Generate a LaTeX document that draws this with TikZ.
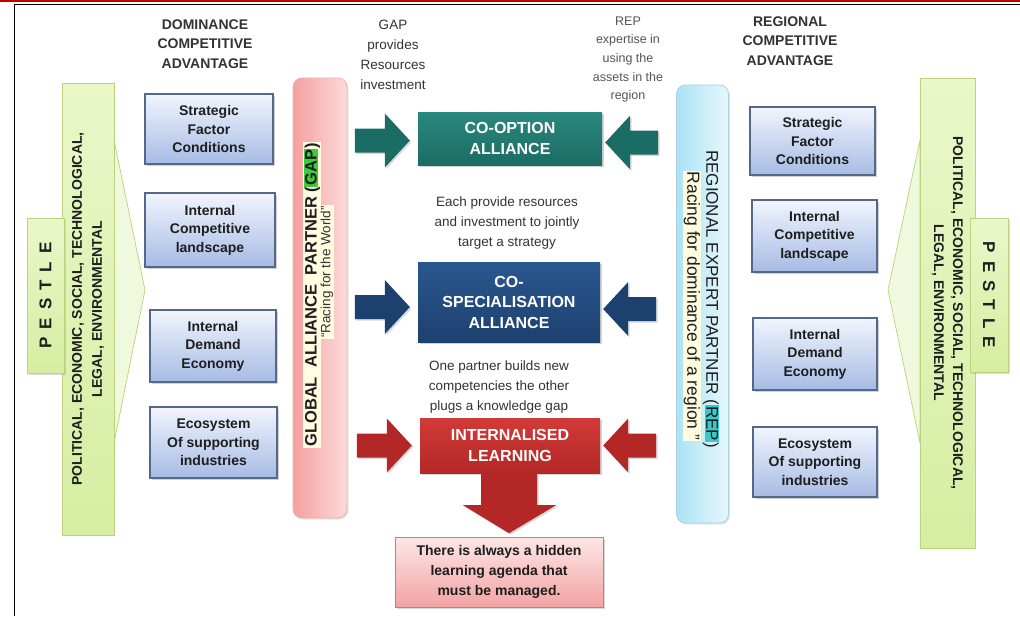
\documentclass[tikz,border=0pt]{standalone}
\usepackage{fontspec}
\setmainfont{Liberation Sans}
\usetikzlibrary{calc,shadows}

\definecolor{factortop}{HTML}{F1F5FD}
\definecolor{factorbot}{HTML}{A6BBE4}
\definecolor{factoredge}{HTML}{56688A}
\definecolor{teala}{HTML}{2A887E}
\definecolor{tealb}{HTML}{1B6C64}
\definecolor{bluea}{HTML}{2A5790}
\definecolor{blueb}{HTML}{1D416F}
\definecolor{reda}{HTML}{D23A37}
\definecolor{redb}{HTML}{B32826}
\definecolor{notetop}{HTML}{FDE6E6}
\definecolor{notebot}{HTML}{F3A3A3}
\definecolor{noteedge}{HTML}{D07878}
\definecolor{gapl}{HTML}{F5A0A0}
\definecolor{gapr}{HTML}{FCDADA}
\definecolor{gapedge}{HTML}{E6B3B3}
\definecolor{repl}{HTML}{ABE3F5}
\definecolor{repr}{HTML}{E7F7FC}
\definecolor{repedge}{HTML}{A9D3E2}
\definecolor{gapmark}{HTML}{3CCB3C}
\definecolor{repmark}{HTML}{3CC8C8}
\definecolor{hilite}{HTML}{FFFCE0}
\definecolor{pestlea}{HTML}{EAF7C8}
\definecolor{pestleb}{HTML}{D6EEA2}
\definecolor{pestleedge}{HTML}{B9D47A}
\definecolor{wedgefill}{HTML}{F0F9DD}
\definecolor{inkdark}{HTML}{1E1E1E}
\definecolor{inkgrey}{HTML}{333333}
\definecolor{inklight}{HTML}{555555}

\newcommand{\fsz}[2]{\fontsize{#1}{#2}\selectfont}
% block arrow pushing right into a node: #1 node, #2 vertical offset, #3 colour
\newcommand{\pushright}[3]{%
  \fill[#3, drop shadow={shadow xshift=1.5pt,shadow yshift=-1.5pt,opacity=.3}]
    ($(#1.west)+(-8,#2)$) -- ++(-25,-27) -- ++(0,15) -- ++(-30,0) -- ++(0,24)
    -- ++(30,0) -- ++(0,15) -- cycle;}
% block arrow pushing left into a node
\newcommand{\pushleft}[3]{%
  \fill[#3, drop shadow={shadow xshift=1.5pt,shadow yshift=-1.5pt,opacity=.3}]
    ($(#1.east)+(3,#2)$) -- ++(25,-27) -- ++(0,15) -- ++(28,0) -- ++(0,24)
    -- ++(-28,0) -- ++(0,15) -- cycle;}

\begin{document}
\begin{tikzpicture}[x=1pt,y=-1pt,
  factor/.style={draw=factoredge, line width=1.3pt, top color=factortop,
    bottom color=factorbot, align=center, text=inkdark,
    font=\fsz{14}{18.5}\bfseries,
    drop shadow={shadow xshift=2pt,shadow yshift=-2pt,opacity=.35}},
  alliance/.style={align=center, text=white, font=\fsz{16}{20.5}\bfseries,
    drop shadow={shadow xshift=2pt,shadow yshift=-2pt,opacity=.35}},
  header/.style={align=center, text=inkgrey, font=\fsz{14}{19.5}\bfseries},
  remark/.style={align=center, text=inkgrey, font=\fsz{13.5}{20}},
  pill/.style={rounded corners=9pt, line width=0.8pt},
  pestlebar/.style={draw=pestleedge, line width=0.8pt, top color=pestlea,
    bottom color=pestleb, align=center, text=inkdark},
]
\useasboundingbox (0,0) rectangle (1020,616);
\fill[white] (0,0) rectangle (1020,616);

% page frame
\draw[red!75!black, line width=2.4pt] (0,1.2) -- (1020,1.2);
\draw[black, line width=1.6pt] (14,4.6) -- (1020,4.6);
\draw[black, line width=1.6pt] (14.5,4) -- (14.5,616);

% ---------- left PESTLE ----------
\filldraw[fill=wedgefill, draw=pestleedge, line width=0.7pt]
  (114,140) -- (145,290) -- (114,443) -- cycle;
\node[pestlebar, rotate=90, minimum width=452, minimum height=52,
  font=\fsz{14}{20}\bfseries] (lbar) at (88,309)
  {POLITICAL, ECONOMIC, SOCIAL, TECHNOLOGICAL,\\LEGAL, ENVIRONMENTAL};
\node[pestlebar, rotate=90, minimum width=155, minimum height=37,
  font=\fsz{17}{20}\bfseries,
  drop shadow={shadow xshift=1.5pt,shadow yshift=-1.5pt,opacity=.25}] (lpest) at (45.5,295.5)
  {P\hskip8pt E\hskip8pt S\hskip8pt T\hskip8pt L\hskip8pt E};

% ---------- right PESTLE ----------
\filldraw[fill=wedgefill, draw=pestleedge, line width=0.7pt]
  (920,140) -- (888,290) -- (920,443) -- cycle;
\node[pestlebar, rotate=-90, minimum width=470, minimum height=55,
  font=\fsz{14}{19}\bfseries] (rbar) at (947.5,313)
  {POLITICAL, ECONOMIC, SOCIAL, TECHNOLOGICAL,\\LEGAL, ENVIRONMENTAL};
\node[pestlebar, rotate=-90, minimum width=154, minimum height=38,
  font=\fsz{17}{20}\bfseries,
  drop shadow={shadow xshift=1.5pt,shadow yshift=-1.5pt,opacity=.25}] (rpest) at (989,295)
  {P\hskip8pt E\hskip8pt S\hskip8pt T\hskip8pt L\hskip8pt E};

% ---------- headers ----------
\node[header] (hdom) at (205,44) {DOMINANCE\\COMPETITIVE\\ADVANTAGE};
\node[header] (hreg) at (790,41) {REGIONAL\\COMPETITIVE\\ADVANTAGE};

% ---------- dominance factors ----------
\node[factor, minimum width=128, minimum height=70] (l1) at (209,129) {Strategic\\Factor\\Conditions};
\node[factor, minimum width=130, minimum height=74] (l2) at (210,230) {Internal\\Competitive\\landscape};
\node[factor, minimum width=126, minimum height=72] (l3) at (213,346) {Internal\\Demand\\Economy};
\node[factor, minimum width=127, minimum height=71] (l4) at (213.5,442.5) {Ecosystem\\Of supporting\\industries};

% ---------- regional factors ----------
\node[factor, minimum width=125, minimum height=68] (r1) at (812.5,141) {Strategic\\Factor\\Conditions};
\node[factor, minimum width=125, minimum height=72] (r2) at (814.5,236) {Internal\\Competitive\\landscape};
\node[factor, minimum width=124, minimum height=72] (r3) at (815,354) {Internal\\Demand\\Economy};
\node[factor, minimum width=124, minimum height=70] (r4) at (815,462) {Ecosystem\\Of supporting\\industries};

% ---------- partner pills ----------
\node[pill, draw=gapedge, left color=gapl, right color=gapr,
  minimum width=54, minimum height=440,
  drop shadow={shadow xshift=1.5pt,shadow yshift=-1.5pt,opacity=.2}] (gap) at (320,298) {};
\setlength{\fboxsep}{1pt}
\node[rotate=90, fill=hilite, inner sep=1pt, text=inkdark, font=\fsz{16.5}{19}\bfseries] (gapname) at (312,295)
  {GLOBAL\ \ ALLIANCE\ \ PARTNER (\colorbox{gapmark}{GAP})};
\node[rotate=90, fill=hilite, inner sep=1pt, text=inkgrey, font=\fsz{13.5}{16}] (gapmotto) at (327,272)
  {“Racing for the World”};

\node[pill, draw=repedge, left color=repl, right color=repr,
  minimum width=52, minimum height=438,
  drop shadow={shadow xshift=1.5pt,shadow yshift=-1.5pt,opacity=.2}] (rep) at (702.5,304) {};
\node[rotate=-90, inner sep=1pt, text=inkdark, font=\fsz{17}{19}] (repname) at (711,299)
  {REGIONAL EXPERT PARTNER (\colorbox{repmark}{REP})};
\node[rotate=-90, fill=hilite, inner sep=1pt, text=inkdark, font=\fsz{17.5}{20}] (repmotto) at (692,306)
  {Racing for dominance of a region ”};

% ---------- alliances ----------
\node[alliance, top color=teala, bottom color=tealb, minimum width=184, minimum height=53] (c1) at (510,138.5) {CO-OPTION\\ALLIANCE};
\node[alliance, top color=bluea, bottom color=blueb, minimum width=182, minimum height=80] (c2) at (509,302) {CO-\\SPECIALISATION\\ALLIANCE};
\node[alliance, top color=reda, bottom color=redb, minimum width=180, minimum height=55] (c3) at (510,445.5) {INTERNALISED\\LEARNING};

\pushright{c1}{2}{tealb}
\pushleft{c1}{4}{tealb}
\pushright{c2}{5}{blueb}
\pushleft{c2}{7}{blueb}
\pushright{c3}{0}{redb}
\pushleft{c3}{0}{redb}

% ---------- remarks ----------
\node[remark] (gapnote) at (393,55) {GAP\\provides\\Resources\\investment};
\node[remark, text=inklight, font=\fsz{12.5}{18.7}] (repnote) at (628,59.5) {REP\\expertise in\\using the\\assets in the\\region};
\node[remark] (eachnote) at (507,223) {Each provide resources\\and investment to jointly\\target a strategy};
\node[remark] (onenote) at (499,387) {One partner builds new\\competencies the other\\plugs a knowledge gap};

% ---------- hidden agenda ----------
\node[draw=noteedge, line width=0.8pt, top color=notetop, bottom color=notebot,
  minimum width=208, minimum height=70, align=center, text=inkdark,
  font=\fsz{14}{20}\bfseries,
  drop shadow={shadow xshift=2pt,shadow yshift=-2pt,opacity=.3}] (agenda) at (499,572)
  {There is always a hidden\\learning agenda that\\must be managed.};

\fill[redb, drop shadow={shadow xshift=1.5pt,shadow yshift=-1.5pt,opacity=.3}]
  ($(c3.south)+(-29,0)$) -- ++(0,32) -- ++(-18,0) -- ($(c3.south)+(-1,60)$)
  -- ($(c3.south)+(46,32)$) -- ++(-19,0) -- ($(c3.south)+(27,0)$) -- cycle;
\end{tikzpicture}
\end{document}
